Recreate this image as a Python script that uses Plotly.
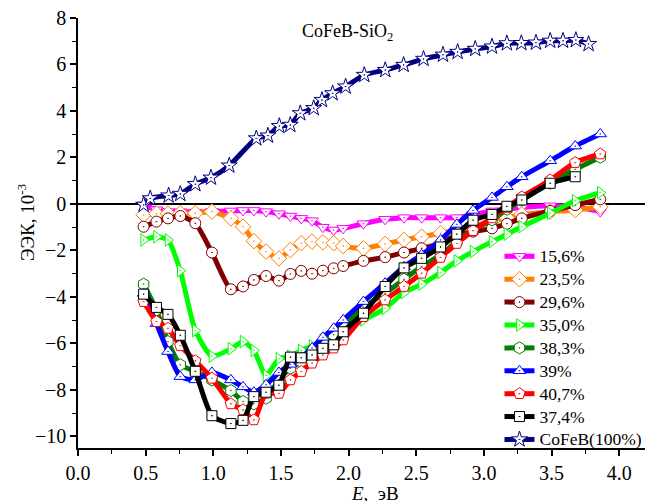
import plotly.graph_objects as go

energy = [0.485, 0.58, 0.665, 0.756, 0.867, 0.99, 1.13, 1.22, 1.30, 1.39, 1.485, 1.57,
          1.65, 1.73, 1.81, 1.89, 1.96, 2.11, 2.27, 2.41, 2.54, 2.68, 2.80, 2.92, 3.06,
          3.17, 3.28, 3.49, 3.675, 3.86]

s156 = [-0.04, -0.25, -0.33, -0.33, -0.35, -0.32, -0.30, -0.28, -0.28, -0.33, -0.42, -0.52,
        -0.62, -0.72, -1.00, -1.12, -1.05, -0.85, -0.66, -0.59, -0.59, -0.59, -0.59, -0.45,
        -0.30, -0.22, -0.15, -0.08, -0.12, -0.33]
s235 = [-0.47, -0.42, -0.42, -0.40, -0.40, -0.33, -0.62, -0.98, -1.60, -2.05, -2.34, -1.98,
        -1.69, -1.62, -1.65, -1.69, -1.81, -1.91, -1.72, -1.55, -1.41, -1.26, -1.12, -0.95,
        -0.75, -0.60, -0.45, -0.33, -0.26, -0.12]
s296 = [-0.98, -0.76, -0.62, -0.52, -0.83, -2.09, -3.67, -3.55, -3.27, -3.10, -3.30, -3.01,
        -2.88, -3.00, -2.87, -2.77, -2.67, -2.45, -2.29, -2.09, -1.91, -1.69, -1.33, -1.19,
        -1.05, -0.85, -0.62, -0.30, -0.05, 0.20]
s350 = [-1.55, -1.41, -1.55, -2.87, -5.45, -6.55, -6.23, -5.92, -6.30, -7.38, -6.66, -6.55,
        -6.30, -6.10, -5.85, -5.60, -5.40, -4.99, -4.49, -3.81, -3.45, -2.95, -2.45, -2.05,
        -1.62, -1.30, -0.98, -0.40, 0.14, 0.49]
s383 = [-3.45, -4.56, -5.92, -6.92, -7.21, -7.57, -8.03, -8.50, -8.60, -8.36, -7.57, -7.07,
        -6.78, -6.35, -6.00, -5.63, -5.28, -4.44, -3.84, -3.24, -2.70, -2.19, -1.62, -1.12,
        -0.69, -0.23, 0.17, 0.89, 1.49, 2.01]
s39 = [-3.85, -5.15, -6.35, -7.43, -7.57, -7.25, -7.57, -7.87, -8.10, -7.78, -7.25, -6.90,
       -6.60, -6.20, -5.74, -5.35, -4.99, -4.20, -3.41, -2.70, -2.19, -1.55, -0.88, -0.28,
       0.28, 0.74, 1.17, 1.86, 2.49, 3.01]
s407 = [-4.20, -5.06, -5.35, -6.10, -6.75, -7.50, -8.60, -8.86, -9.29, -8.14, -8.15, -7.57,
        -7.21, -6.85, -6.50, -6.20, -5.85, -4.85, -4.13, -3.55, -2.98, -2.30, -1.70, -1.15,
        -0.60, -0.15, 0.30, 1.03, 1.78, 2.15]
s374 = [-3.88, -4.45, -4.75, -5.65, -7.20, -9.11, -9.45, -9.31, -8.29, -8.10, -7.80, -6.59,
        -6.62, -6.50, -6.21, -6.06, -5.50, -4.70, -3.55, -2.75, -2.34, -1.85, -1.30, -0.70,
        -0.45, -0.10, 0.17, 0.89, 1.17]

energy_cofeb = [0.485, 0.534, 0.67, 0.756, 0.867, 0.983, 1.118, 1.318, 1.404, 1.488, 1.569,
                1.643, 1.742, 1.803, 1.882, 1.978, 2.116, 2.271, 2.407, 2.554, 2.698, 2.806,
                2.936, 3.06, 3.17, 3.277, 3.385, 3.49, 3.585, 3.68, 3.774]
s_cofeb = [-0.04, 0.24, 0.36, 0.43, 0.85, 1.13, 1.65, 2.82, 2.94, 3.35, 3.40, 3.90, 4.12,
           4.47, 4.76, 5.05, 5.55, 5.76, 5.98, 6.24, 6.42, 6.54, 6.67, 6.77, 6.91, 6.92,
           6.94, 7.02, 7.02, 7.05, 6.88]

series = [
    ("15,6%", energy, s156, "#FF00FF", "triangle-down-dot", 11),
    ("23,5%", energy, s235, "#FF8000", "diamond-dot", 12),
    ("29,6%", energy, s296, "#800000", "circle-dot", 11),
    ("35,0%", energy, s350, "#00FF00", "triangle-right-dot", 11),
    ("38,3%", energy, s383, "#007F00", "hexagon-dot", 12),
    ("39%", energy, s39, "#0000FF", "triangle-up-dot", 11),
    ("40,7%", energy, s407, "#FF0000", "pentagon-dot", 12),
    ("37,4%", energy[:len(s374)], s374, "#000000", "square-dot", 10),
    ("CoFeB(100%)", energy_cofeb, s_cofeb, "#000080", "star-dot", 12),
]

fig = go.Figure()
for name, xs, ys, col, sym, sz in series:
    fig.add_trace(go.Scatter(
        x=xs, y=ys, name=f'<span style="font-size:17.5px">{name}</span>',
        mode="lines+markers",
        line=dict(color=col, width=5, shape="spline", smoothing=0.6),
        marker=dict(symbol=sym, size=sz, color="white",
                    line=dict(color=col, width=1)),
    ))

serif = "Liberation Serif"
# page body has an 8px default margin, so the figure is sized to fill the rest
fig.update_layout(
    width=645, height=493,
    margin=dict(l=70, r=0, t=10, b=53, autoexpand=False),
    paper_bgcolor="white", plot_bgcolor="white",
    font=dict(family=serif, size=20, color="black"),
    showlegend=True,
    legend=dict(x=0.733, y=0.484, xanchor="left", yanchor="top",
                bgcolor="rgba(0,0,0,0)", tracegroupgap=0,
                font=dict(family=serif, size=15.3), itemwidth=30),
    xaxis=dict(range=[0, 4.25], tickmode="linear", tick0=0, dtick=0.5,
               tickformat=".1f", showgrid=False, zeroline=False, automargin=False,
               showline=True, linecolor="black", linewidth=1.5,
               ticks="outside", ticklen=6, tickwidth=1.5, tickcolor="black",
               tickfont=dict(family=serif, size=20), ticklabeloverflow="allow",
               minor=dict(dtick=0.25, ticks="outside", ticklen=4, tickwidth=1.2,
                          tickcolor="black")),
    yaxis=dict(range=[-10.5, 8], tickmode="linear", tick0=0, dtick=2,
               showgrid=False, zeroline=True, zerolinecolor="black", zerolinewidth=1.5,
               automargin=False,
               showline=True, linecolor="black", linewidth=1.5,
               ticks="outside", ticklen=6, tickwidth=1.5, tickcolor="black",
               tickfont=dict(family=serif, size=20), ticklabeloverflow="allow",
               minor=dict(dtick=1, ticks="outside", ticklen=4, tickwidth=1.2,
                          tickcolor="black")),
    annotations=[
        dict(text="CoFeB-SiO<sub>2</sub>", x=0.468, y=0.998, xref="paper", yref="paper",
             xanchor="center", yanchor="top", showarrow=False,
             font=dict(family=serif, size=18)),
        dict(text="ЭЭК, 10<sup>-3</sup>", x=-0.09, y=0.526, xref="paper", yref="paper",
             xanchor="center", yanchor="middle", textangle=-90, showarrow=False,
             font=dict(family=serif, size=19)),
        dict(text="<i>E</i>,  эВ", x=0.517, y=-0.105, xref="paper", yref="paper",
             xanchor="center", yanchor="middle", showarrow=False,
             font=dict(family=serif, size=19)),
    ],
)

fig.write_html("out.html")
